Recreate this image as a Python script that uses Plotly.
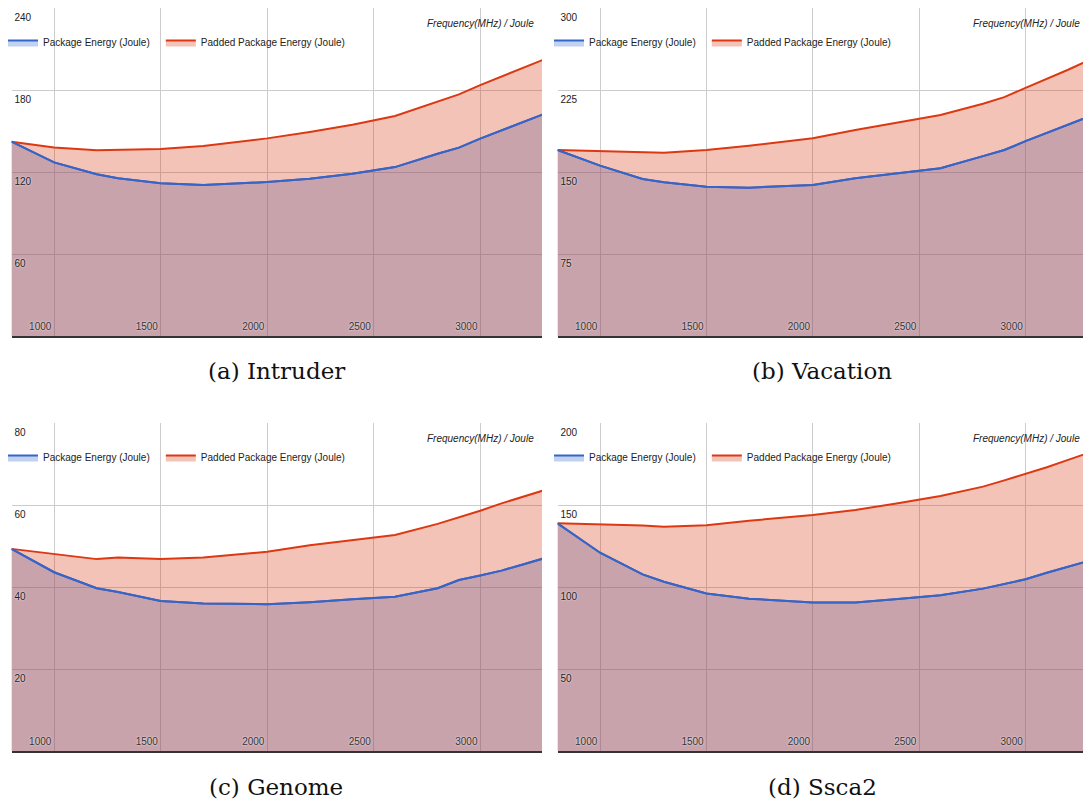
import plotly.graph_objects as go

# ---------------- data ----------------
freq = [800, 1000, 1200, 1300, 1500, 1700, 2000, 2200, 2400, 2600, 2800, 2900, 3000, 3100, 3200, 3300]

intruder_pkg = [142.2, 127.0, 118.3, 115.5, 111.7, 110.5, 112.6, 115.0, 118.8, 123.6, 133.4, 137.8, 144.4, 150.4, 156.5, 162.5]
intruder_pad = [142.2, 138.0, 136.0, 136.2, 136.8, 139.0, 144.6, 149.2, 154.5, 161.0, 171.9, 176.8, 183.6, 189.9, 196.2, 202.4]

vacation_pkg = [170.1, 155.8, 143.6, 140.6, 136.6, 135.7, 138.1, 144.2, 148.9, 153.4, 164.5, 170.1, 178.2, 185.7, 193.4, 200.8]
vacation_pad = [170.1, 169.2, 167.7, 167.7, 170.1, 174.0, 180.8, 188.4, 195.2, 202.1, 212.5, 218.5, 227.0, 235.0, 243.5, 252.5]

genome_pkg = [49.3, 43.6, 39.7, 38.8, 36.6, 36.0, 35.8, 36.3, 37.0, 37.6, 39.7, 41.7, 42.8, 44.0, 45.5, 47.0]
genome_pad = [49.3, 48.0, 46.8, 47.2, 46.8, 47.2, 48.6, 50.2, 51.5, 52.7, 55.4, 57.0, 58.6, 60.4, 62.0, 63.6]

ssca2_pkg = [138.8, 120.9, 107.7, 103.2, 96.1, 92.9, 90.6, 90.6, 92.7, 94.9, 99.0, 101.8, 104.7, 108.7, 112.5, 116.0]
ssca2_pad = [138.8, 138.2, 137.5, 136.8, 137.6, 140.4, 143.9, 147.0, 151.0, 155.5, 161.2, 165.0, 168.9, 173.0, 177.5, 182.0]

captions = ["(a) Intruder", "(b) Vacation", "(c) Genome", "(d) Ssca2"]
y_max = [240, 300, 80, 200]
y_ticks = [[60, 120, 180, 240], [75, 150, 225, 300], [20, 40, 60, 80], [50, 100, 150, 200]]
x_ticks = [1000, 1500, 2000, 2500, 3000]
series_names = ["Package Energy (Joule)", "Padded Package Energy (Joule)"]
corner_text = "Frequency(MHz) / Joule"

panels = [
    (intruder_pkg, intruder_pad),
    (vacation_pkg, vacation_pad),
    (genome_pkg, genome_pad),
    (ssca2_pkg, ssca2_pad),
]

# ---------------- layout geometry ----------------
W, H = 1083, 804


def fx(p):
    return p / W


def fy(p):
    return (H - p) / H


BLUE = "#3366cc"
RED = "#dc3912"
BLUE_FILL = "rgba(51,102,204,0.3)"
RED_FILL = "rgba(220,57,18,0.3)"
FONT = "Liberation Sans, Arial, sans-serif"
PAD = "\u00a0" * 4  # extra spacing after the first legend entry

col_px = [(11.5, 542.0), (557.5, 1083.0)]
row_px = [(8.0, 336.0), (423.0, 751.0)]
x_range = [[800, 3290], [800, 3270]]
caption_x = [276, 822]
caption_y = [371, 787]

fig = go.Figure()

for i, (pkg, pad) in enumerate(panels):
    r, c = divmod(i, 2)
    n = i + 1
    xa = "x" if n == 1 else f"x{n}"
    ya = "y" if n == 1 else f"y{n}"
    lg = "legend" if n == 1 else f"legend{n}"

    fig.add_trace(go.Scatter(
        x=freq, y=pkg, name=series_names[0] + PAD, mode="lines",
        line=dict(color=BLUE, width=2), fill="tozeroy", fillcolor=BLUE_FILL,
        xaxis=xa, yaxis=ya, legend=lg, hoverinfo="skip"))
    fig.add_trace(go.Scatter(
        x=freq, y=pad, name=series_names[1], mode="lines",
        line=dict(color=RED, width=2), fill="tozeroy", fillcolor=RED_FILL,
        xaxis=xa, yaxis=ya, legend=lg, hoverinfo="skip"))
    # blue line redrawn on top of the red fill
    fig.add_trace(go.Scatter(
        x=freq, y=pkg, mode="lines", showlegend=False,
        line=dict(color=BLUE, width=2),
        xaxis=xa, yaxis=ya, hoverinfo="skip"))

    x0, x1 = col_px[c]
    top, bot = row_px[r]
    xdom = [max(0.0, fx(x0)), min(1.0, fx(x1))]
    ydom = [max(0.0, fy(bot)), min(1.0, fy(top))]

    axkey_x = "xaxis" if n == 1 else f"xaxis{n}"
    axkey_y = "yaxis" if n == 1 else f"yaxis{n}"
    fig.update_layout(**{
        axkey_x: dict(
            domain=xdom, range=x_range[c], anchor=ya,
            tickvals=x_ticks, ticks="", ticklabelposition="inside left",
            ticklabelshift=-2,
            tickfont=dict(family=FONT, size=10, color="#333",
                          shadow="0px 0px 2px white"),
            showgrid=True, gridcolor="#cccccc", gridwidth=1,
            showline=True, linecolor="#333333", linewidth=1.5,
            zeroline=False, fixedrange=True),
        axkey_y: dict(
            domain=ydom, range=[0, y_max[i]], anchor=xa,
            tickvals=y_ticks[i], ticks="", ticklabelposition="inside bottom",
            ticklabelshift=2,
            tickfont=dict(family=FONT, size=10, color="#222",
                          shadow="0px 0px 2px white"),
            showgrid=True, gridcolor="#cccccc", gridwidth=1,
            showline=False, zeroline=False, fixedrange=True),
        lg: dict(
            x=max(0.0, fx(x0 - 3.5)), y=fy(top + 20), xanchor="left", yanchor="top",
            orientation="h", bgcolor="rgba(0,0,0,0)", indentation=-5,
            font=dict(family=FONT, size=10, color="#222"),
            itemwidth=30, itemclick=False, itemdoubleclick=False),
    })

    # corner italic text
    fig.add_annotation(
        x=fx(x0 + 530.5 - 6), y=fy(top + 16), xref="paper", yref="paper",
        text=f"<i>{corner_text}</i>", showarrow=False, xanchor="right", yanchor="middle",
        font=dict(family=FONT, size=10, color="#222"))

    # caption
    fig.add_annotation(
        x=fx(caption_x[c]), y=fy(caption_y[r]),
        xref="paper", yref="paper", text=captions[i], showarrow=False,
        xanchor="center", yanchor="middle",
        font=dict(family="DejaVu Serif, Liberation Serif, serif", size=23, color="#111"))

fig.update_layout(
    width=W, height=H, margin=dict(l=0, r=0, t=0, b=0),
    paper_bgcolor="white", plot_bgcolor="white",
    showlegend=True, hovermode=False,
)

# place the figure flush with the page corner and suppress scrollbars
fig.write_html(
    "out.html",
    config={"displayModeBar": False, "staticPlot": False},
    post_script="document.body.style.margin='0';"
                "document.documentElement.style.overflow='hidden';"
                "document.body.style.overflow='hidden';",
)
